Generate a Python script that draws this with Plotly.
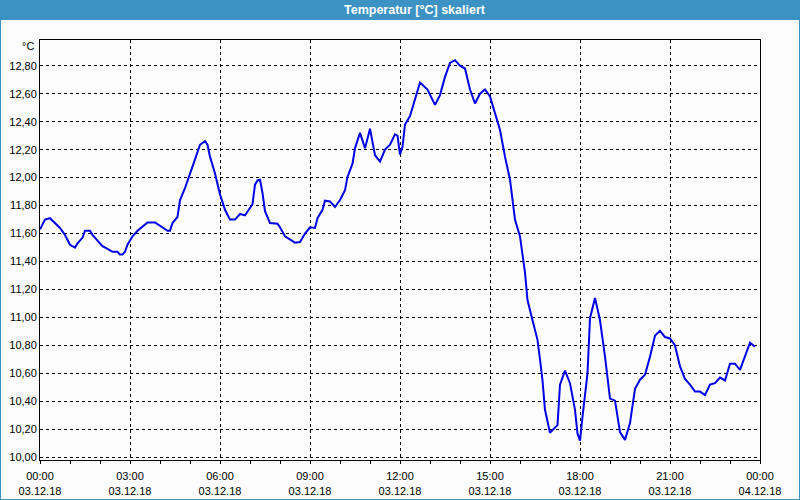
import plotly.graph_objects as go

# ---- data ----
times = ["00:00","00:10","00:20","00:30","00:40","00:50","01:00","01:10","01:15","01:25",
         "01:30","01:40","01:45","01:55","02:05","02:15","02:25","02:35","02:40","02:45",
         "02:50","02:55","03:05","03:15","03:25","03:35","03:50","04:05","04:15","04:20",
         "04:25","04:35","04:40","04:50","05:00","05:10","05:20","05:25","05:30","05:35",
         "05:40","05:50","06:00","06:10","06:20","06:30","06:40","06:50","06:55","07:05",
         "07:10","07:15","07:20","07:25","07:30","07:40","07:55","08:00","08:10","08:20",
         "08:30","08:40","08:50","09:00","09:10","09:15","09:25","09:30","09:40","09:50",
         "10:00","10:10","10:15","10:25","10:30","10:40","10:50","11:00","11:10","11:20",
         "11:30","11:40","11:50","11:55","12:00","12:05","12:10","12:20","12:30","12:40",
         "12:55","13:10","13:20","13:30","13:40","13:50","14:00","14:10","14:20","14:30",
         "14:40","14:50","15:00","15:10","15:20","15:30","15:40","15:50","16:00","16:10",
         "16:15","16:25","16:35","16:40","16:45","16:50","17:00","17:05","17:15","17:20",
         "17:30","17:40","17:50","17:55","18:00","18:05","18:15","18:20","18:30","18:40",
         "18:50","19:00","19:10","19:20","19:30","19:40","19:50","20:00","20:10","20:20",
         "20:30","20:40","20:50","21:00","21:10","21:20","21:30","21:40","21:50","22:00",
         "22:10","22:20","22:30","22:40","22:50","23:00","23:10","23:20","23:30","23:40",
         "23:50"]
temps = [11.63,11.70,11.71,11.675,11.64,11.59,11.52,11.50,11.53,11.57,
         11.62,11.62,11.59,11.55,11.51,11.49,11.47,11.47,11.45,11.45,
         11.47,11.52,11.58,11.62,11.65,11.68,11.68,11.64,11.62,11.62,
         11.675,11.72,11.84,11.925,12.02,12.13,12.235,12.25,12.26,12.235,
         12.15,12.03,11.88,11.77,11.70,11.70,11.74,11.73,11.76,11.81,
         11.95,11.98,11.985,11.89,11.76,11.675,11.67,11.645,11.58,11.555,
         11.535,11.54,11.60,11.645,11.64,11.71,11.77,11.835,11.83,11.79,
         11.84,11.91,12.005,12.10,12.21,12.32,12.21,12.35,12.16,12.115,
         12.20,12.235,12.31,12.30,12.165,12.22,12.38,12.44,12.57,12.68,
         12.63,12.52,12.59,12.72,12.82,12.84,12.80,12.78,12.63,12.53,
         12.60,12.63,12.58,12.46,12.34,12.15,11.985,11.70,11.58,11.32,
         11.125,10.98,10.84,10.70,10.55,10.34,10.175,10.195,10.23,10.52,
         10.62,10.53,10.34,10.17,10.12,10.29,10.60,10.995,11.14,10.98,
         10.72,10.42,10.405,10.18,10.125,10.245,10.49,10.555,10.59,10.72,
         10.87,10.905,10.86,10.85,10.80,10.65,10.56,10.52,10.47,10.47,
         10.445,10.52,10.53,10.57,10.55,10.67,10.67,10.625,10.72,10.82,
         10.79]
day = "2018-12-03"
tick_hours = ["00:00","03:00","06:00","09:00","12:00","15:00","18:00","21:00","00:00"]
tick_dates = ["03.12.18"]*8 + ["04.12.18"]
tick_vals = [f"{day} {h}" for h in tick_hours[:-1]] + ["2018-12-04 00:00"]
y_ticks = [10.0 + 0.2*i for i in range(15)]
title_text = "Temperatur [°C] skaliert"
unit_text = "°C"

x = [f"{day} {t}" for t in times]

FONT = "Liberation Sans"
BG = "#fbfcfb"
BAR = "#3d92c4"

fig = go.Figure()
fig.add_trace(go.Scatter(x=x, y=temps, mode="lines",
                         line=dict(color="#0000e6", width=2), hoverinfo="skip"))

W, H = 800, 500
L, R, T, B = 40, 40, 40, 40
pw, ph = W - L - R, H - T - B

fig.update_layout(
    width=W, height=H,
    margin=dict(l=L, r=R, t=T, b=B, autoexpand=False),
    paper_bgcolor=BG, plot_bgcolor=BG,
    showlegend=False,
    separators=",.",
    font=dict(family=FONT, size=11, color="#000000"),
    xaxis=dict(
        type="date", automargin=False,
        range=[f"{day} 00:00", "2018-12-04 00:00"],
        tickmode="array", tickvals=tick_vals,
        ticktext=[f"{h}<br>{d}" for h, d in zip(tick_hours, tick_dates)],
        ticks="outside", ticklen=3, tickcolor="#000000",
        ticklabelstandoff=3,
        showgrid=True, gridcolor="#000000", gridwidth=1, griddash="3px,3px",
        showline=True, linecolor="#000000", linewidth=1, mirror=True,
        zeroline=False,
        minor=dict(tickmode="linear", tick0=f"{day} 00:00", dtick=3600000,
                   ticks="outside", ticklen=3, tickcolor="#000000", showgrid=False),
        tickfont=dict(family=FONT, size=11, color="#000000"),
    ),
    yaxis=dict(
        automargin=False,
        range=[9.981, 12.984],
        tickmode="array", tickvals=y_ticks, tickformat=".2f",
        ticks="", showgrid=True, gridcolor="#000000", gridwidth=1, griddash="3px,3px",
        showline=True, linecolor="#000000", linewidth=1, mirror=True,
        zeroline=False,
        tickfont=dict(family=FONT, size=11, color="#000000"),
    ),
    shapes=[
        dict(type="rect", xref="paper", yref="paper",
             x0=-L/pw, x1=1 + R/pw, y0=1 + (T-20)/ph, y1=1 + T/ph,
             fillcolor=BAR, line=dict(width=0), layer="above"),
        dict(type="rect", xref="paper", yref="paper",
             x0=-L/pw, x1=1 + R/pw, y0=-B/ph, y1=1 + T/ph,
             fillcolor="rgba(0,0,0,0)", line=dict(color=BAR, width=2), layer="above"),
    ],
    annotations=[
        dict(text=f"<b>{title_text}</b>", xref="paper", yref="paper",
             x=(415 - L)/pw, y=1 + (T-10)/ph, xanchor="center", yanchor="middle",
             showarrow=False, font=dict(family=FONT, size=12.5, color="#ffffff")),
        dict(text=unit_text, xref="paper", yref="paper",
             x=-4/pw, y=1 - 6/ph, xanchor="right", yanchor="middle",
             showarrow=False, font=dict(family=FONT, size=11, color="#000000")),
    ],
)

fig.write_html("out.html")
